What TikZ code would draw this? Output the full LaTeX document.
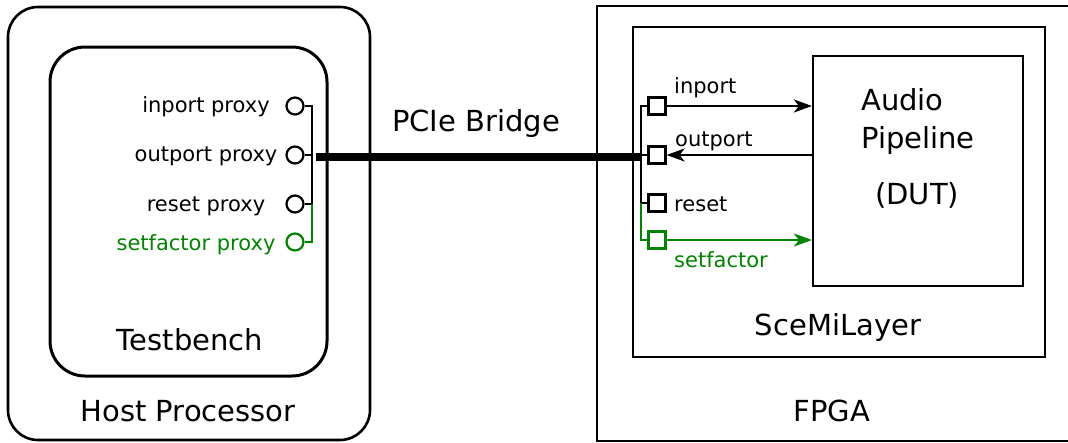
\documentclass[tikz,border=0pt]{standalone}
\usepackage{fontspec}
\setmainfont{DejaVu Sans}
\usetikzlibrary{arrows.meta}
\definecolor{sigGreen}{RGB}{0,132,0}

\begin{document}
\begin{tikzpicture}[x=1pt,y=-1pt,
  big/.style={font=\fontsize{29}{34}\selectfont, inner sep=0pt},
  small/.style={font=\fontsize{21}{25}\selectfont, inner sep=0pt},
  frame/.style={draw, line width=2.6pt, inner sep=0pt},
  proxy/.style={circle, draw, line width=2.2pt, minimum size=17pt, inner sep=0pt},
  port/.style={rectangle, draw, line width=2.2pt, minimum size=17pt, inner sep=0pt},
  wire/.style={line width=2.2pt},
  sig/.style={line width=2.2pt, -{Stealth[length=18pt,width=13pt,inset=5pt]}},
  bus/.style={line width=8pt},
]
\useasboundingbox (0,0) rectangle (1068,442);

% ---------- host side ----------
\node[frame, rounded corners=30pt, minimum width=362pt, minimum height=433pt] (host) at (189,223.5) {};
\node[frame, line width=3pt, rounded corners=35pt, minimum width=277pt, minimum height=329pt] (tb) at (188.5,211.5) {};
\node[big, anchor=base] (tbLabel) at (190,350) {Testbench};
\node[big, anchor=base] (hostLabel) at (188,421) {Host Processor};

\node[proxy] (pin)  at (295,106) {};
\node[proxy] (pout) at (295,155) {};
\node[proxy] (prst) at (295,204) {};
\node[proxy, draw=sigGreen] (pset) at (295,242) {};

\node[small, anchor=base] (pinL)  at (206,112) {inport proxy};
\node[small, anchor=base] (poutL) at (206,161) {outport proxy};
\node[small, anchor=base] (prstL) at (206,211) {reset proxy};
\node[small, anchor=base, text=sigGreen] (psetL) at (196,250) {setfactor proxy};

\coordinate (hjTop) at (312,106);
\coordinate (hjRst) at (312,204);
\coordinate (hjSet) at (312,242);
\draw[wire] (pin.east) -- (hjTop) -- (hjRst) -- (prst.east);
\draw[wire] (pout.east) -- (pout.east -| hjTop);
\draw[wire, sigGreen] (hjRst) -- (hjSet) -- (pset.east);

% ---------- PCIe link ----------
\coordinate (hostTap) at (316,157);
\coordinate (fpgaTap) at (641,157);
\draw[bus] (hostTap) -- (fpgaTap);
\node[big, anchor=base] (pcie) at (476,131) {PCIe Bridge};

% ---------- FPGA side ----------
\draw[line width=2.6pt] (1070,6) -- (597,6) -- (597,441) -- (1070,441);
\node[big, anchor=base] (fpgaLabel) at (832,421) {FPGA};

\node[frame, minimum width=412pt, minimum height=330pt] (sceMi) at (839,192) {};
\node[big, anchor=base] (sceMiLabel) at (838,335) {SceMiLayer};

\node[frame, line width=2.2pt, minimum width=210pt, minimum height=230pt] (dut) at (918,171) {};
\node[big, anchor=base west] (dutA) at (861,110) {Audio};
\node[big, anchor=base west] (dutB) at (861,148) {Pipeline};
\node[big, anchor=base west] (dutC) at (875,204) {(DUT)};

\node[port] (qin)  at (657,106) {};
\node[port] (qout) at (657,155) {};
\node[port] (qrst) at (657,203) {};
\node[port, draw=sigGreen] (qset) at (657,240) {};

\node[small, anchor=base west] (qinL)  at (674,93)  {inport};
\node[small, anchor=base west] (qoutL) at (675,146) {outport};
\node[small, anchor=base west] (qrstL) at (674,211) {reset};
\node[small, anchor=base west, text=sigGreen] (qsetL) at (674,267) {setfactor};

\coordinate (fjTop) at (641,106);
\coordinate (fjRst) at (641,203);
\coordinate (fjSet) at (641,240);
\draw[wire] (qin.west) -- (fjTop) -- (fjRst) -- (qrst.west);
\draw[wire] (qout.west) -- (qout.west -| fjTop);
\draw[wire, sigGreen] (fjRst) -- (fjSet) -- (qset.west);

\draw[sig] (qin.east) -- (qin.east -| dut.west);
\draw[sig] (qout.east -| dut.west) -- (qout.east);
\draw[sig, sigGreen] (qset.east) -- (qset.east -| dut.west);
\end{tikzpicture}
\end{document}
